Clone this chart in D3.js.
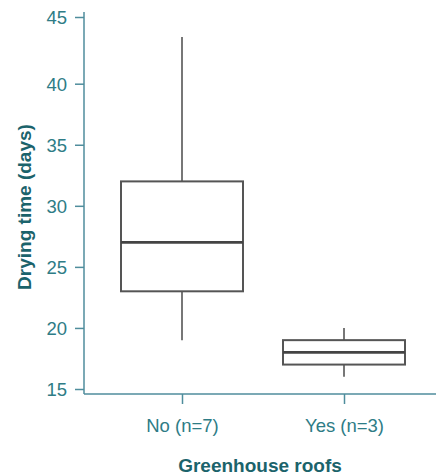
<!DOCTYPE html>
<html>
<head>
<meta charset="utf-8">
<script src="https://cdn.jsdelivr.net/npm/d3@7"></script>
<style>
  html, body { margin: 0; padding: 0; background: #fff; }
  svg { display: block; font-family: "Liberation Sans", Arial, sans-serif; }
</style>
</head>
<body>
<svg id="chart" width="436" height="475"></svg>
<script>
// ---- data ----
const categories = ["No (n=7)", "Yes (n=3)"];
const whiskerLow  = [19, 16];
const q1          = [23, 17];
const median      = [27, 18];
const q3          = [32, 19];
const whiskerHigh = [43.5, 20];
const yTicks = [15, 20, 25, 30, 35, 40, 45];
const xTitle = "Greenhouse roofs";
const yTitle = "Drying time (days)";

// ---- layout ----
const svg = d3.select("#chart");
const plot = { left: 84, right: 436, top: 12, bottom: 394 };
const axisColor = "#4f8d9c";
const tickTextColor = "#2e7c86";
const titleColor = "#1b636b";
const boxColor = "#555555";

const y = d3.scaleLinear().domain([15, 40, 45]).range([389, 83.7, 17]);
const x = d3.scalePoint().domain(categories).range([182, 344]);
const boxW = 122;

// axes lines (spines)
svg.append("line").attr("x1", plot.left).attr("x2", plot.left)
  .attr("y1", plot.top).attr("y2", plot.bottom)
  .attr("stroke", axisColor).attr("stroke-width", 1.5);
svg.append("line").attr("x1", plot.left).attr("x2", plot.right)
  .attr("y1", plot.bottom).attr("y2", plot.bottom)
  .attr("stroke", axisColor).attr("stroke-width", 1.5);

// y axis
const yAxis = d3.axisLeft(y).tickValues(yTicks).tickSize(9).tickPadding(8).tickFormat(d3.format("d"));
const gy = svg.append("g").attr("transform", `translate(${plot.left},0)`).call(yAxis);
gy.select(".domain").remove();
gy.selectAll(".tick line").attr("stroke", axisColor).attr("stroke-width", 1.5);
gy.selectAll(".tick text").attr("fill", tickTextColor)
  .style("font-size", "18.5px").attr("dy", "0.36em");

// x axis
const xAxis = d3.axisBottom(x).tickSize(10).tickPadding(15);
const gx = svg.append("g").attr("transform", `translate(0,${plot.bottom})`).call(xAxis);
gx.select(".domain").remove();
gx.selectAll(".tick line").attr("stroke", axisColor).attr("stroke-width", 1.5);
gx.selectAll(".tick text").attr("fill", tickTextColor).style("font-size", "18.5px");

// boxes
const data = categories.map((c, i) => ({
  c, lo: whiskerLow[i], q1: q1[i], med: median[i], q3: q3[i], hi: whiskerHigh[i]
}));
const g = svg.append("g");
const boxes = g.selectAll("g.box").data(data).join("g").attr("class", "box");
boxes.append("line")
  .attr("x1", d => x(d.c)).attr("x2", d => x(d.c))
  .attr("y1", d => y(d.hi)).attr("y2", d => y(d.q3))
  .attr("stroke", boxColor).attr("stroke-width", 1.6);
boxes.append("line")
  .attr("x1", d => x(d.c)).attr("x2", d => x(d.c))
  .attr("y1", d => y(d.q1)).attr("y2", d => y(d.lo))
  .attr("stroke", boxColor).attr("stroke-width", 1.6);
boxes.append("rect")
  .attr("x", d => x(d.c) - boxW / 2).attr("width", boxW)
  .attr("y", d => y(d.q3)).attr("height", d => y(d.q1) - y(d.q3))
  .attr("fill", "#fff").attr("stroke", boxColor).attr("stroke-width", 2);
boxes.append("line")
  .attr("x1", d => x(d.c) - boxW / 2).attr("x2", d => x(d.c) + boxW / 2)
  .attr("y1", d => y(d.med)).attr("y2", d => y(d.med))
  .attr("stroke", "#444").attr("stroke-width", 2.8);

// titles
svg.append("text")
  .attr("x", 260).attr("y", 472)
  .attr("text-anchor", "middle")
  .attr("fill", titleColor)
  .style("font-size", "19px").style("font-weight", "bold")
  .text(xTitle);
svg.append("text")
  .attr("transform", "translate(31,207) rotate(-90)")
  .attr("text-anchor", "middle")
  .attr("fill", titleColor)
  .style("font-size", "19px").style("font-weight", "bold")
  .text(yTitle);
</script>
</body>
</html>
